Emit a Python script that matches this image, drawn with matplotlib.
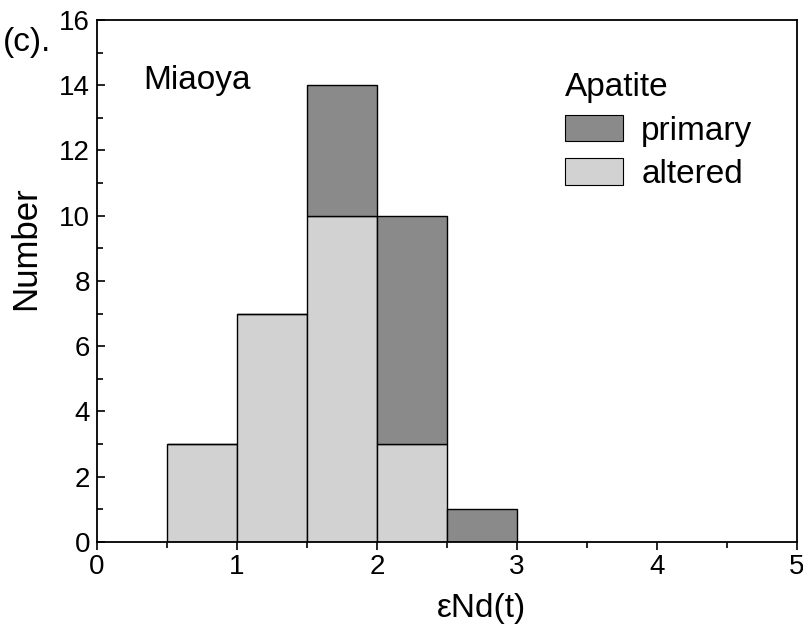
import matplotlib
matplotlib.use("Agg")
import matplotlib.pyplot as plt
from matplotlib.patches import Patch
from matplotlib.ticker import MultipleLocator

plt.rcParams['font.family'] = ['Liberation Sans', 'DejaVu Sans']

bin_left = [0.5, 1.0, 1.5, 2.0, 2.5]
altered = [3, 7, 10, 3, 0]
primary = [0, 0, 4, 7, 1]
bin_width = 0.5

c_primary = '#8a8a8a'
c_altered = '#d2d2d2'

fig = plt.figure(figsize=(8.04, 6.27), dpi=100)
ax = fig.add_axes([0.1206, 0.1356, 0.8706, 0.8325])

ax.bar(bin_left, altered, width=bin_width, align='edge', color=c_altered,
       edgecolor='black', linewidth=1.0)
ax.bar(bin_left, primary, width=bin_width, align='edge', bottom=altered,
       color=c_primary, edgecolor='black', linewidth=1.0)

ax.set_xlim(0, 5)
ax.set_ylim(0, 16)
ax.xaxis.set_major_locator(MultipleLocator(1))
ax.xaxis.set_minor_locator(MultipleLocator(0.5))
ax.yaxis.set_major_locator(MultipleLocator(2))
ax.yaxis.set_minor_locator(MultipleLocator(1))
ax.tick_params(axis='x', which='both', direction='out', labelsize=20, pad=3)
ax.tick_params(axis='y', which='both', direction='in', labelsize=20, pad=5)
ax.tick_params(which='major', length=6, width=1.2)
ax.tick_params(which='minor', length=4, width=1.2)
for s in ax.spines.values():
    s.set_linewidth(1.3)

ax.set_xlabel('εNd(t)', fontsize=24)
ax.set_ylabel('Number', fontsize=25)
ax.xaxis.set_label_coords(0.55, -0.098)
ax.yaxis.set_label_coords(-0.079, 0.563)

ax.text(0.066, 0.885, 'Miaoya', transform=ax.transAxes, fontsize=24,
        ha='left', va='center')
fig.text(0.003, 0.933, '(c).', fontsize=24, ha='left', va='center')

handles = [Patch(facecolor=c_primary, edgecolor='black', linewidth=0.8, label='primary'),
           Patch(facecolor=c_altered, edgecolor='black', linewidth=0.8, label='altered')]
leg = ax.legend(handles=handles, title='Apatite', loc='upper left',
                bbox_to_anchor=(0.668, 0.9), frameon=False, fontsize=24,
                title_fontsize=24, alignment='left', handlelength=1.75,
                handleheight=0.85, handletextpad=0.55, labelspacing=0.35,
                borderaxespad=0, borderpad=0)

fig.savefig('out.png', dpi=100)
